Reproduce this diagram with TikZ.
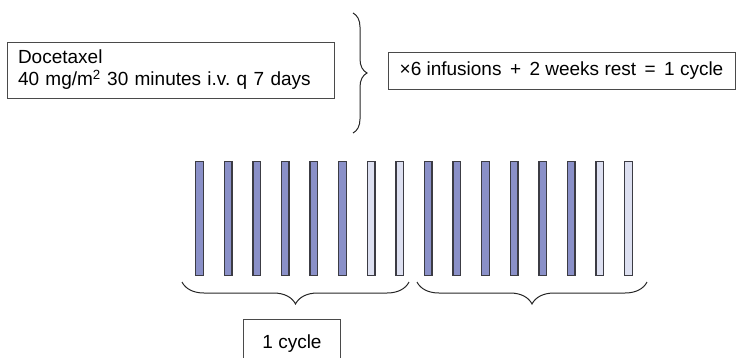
\documentclass[tikz,border=0pt]{standalone}
\usepackage{fontspec}
\setmainfont{Liberation Sans}
\usetikzlibrary{decorations.pathreplacing}
\definecolor{bardark}{HTML}{8A90C8}
\definecolor{barlight}{HTML}{DDE0F1}
\definecolor{barline}{HTML}{3C3C44}
\definecolor{boxline}{HTML}{4A4A4A}
\tikzset{
  txtbox/.style={draw=boxline, line width=1pt, inner sep=0pt, font=\fontsize{19}{22}\selectfont},
  barbox/.style={draw=barline, line width=1.3pt, minimum width=7.6pt, minimum height=113.5pt, inner sep=0pt, anchor=north west},
  bigbrace/.style={draw=black!85, line width=1pt, decorate, decoration={brace, amplitude=#1}},
}
\begin{document}
\frenchspacing
\begin{tikzpicture}[x=1pt,y=-1pt]
\useasboundingbox (0,0) rectangle (736,357);
\clip (0,0) rectangle (736,357);
% top boxes
\node[txtbox, minimum width=327pt, minimum height=56pt, text width=305pt, align=left] (drug) at (170.5,70) {Docetaxel\\40 mg/m\textsuperscript{2} 30 minutes i.v. q 7 days};
\node[txtbox, minimum width=347pt, minimum height=37pt] (rule) at (561.5,70.5) {×6 infusions \,+\, 2 weeks rest \,=\, 1 cycle};
% right-pointing brace
\coordinate (bt) at (353,13);
\coordinate (bb) at (353,133);
\draw[bigbrace=14pt] (bt) -- (bb);
% bars
\foreach \i in {0,...,15}{
  \pgfmathtruncatemacro{\m}{mod(\i,8)}
  \ifnum\m<6
    \node[barbox, fill=bardark] (bar\i) at ({195+28.6*\i},161) {};
  \else
    \node[barbox, fill=barlight] (bar\i) at ({195+28.6*\i},161) {};
  \fi
}
% bottom braces
\coordinate (l1) at (182,282);
\coordinate (r1) at (409,282);
\coordinate (l2) at (417,282);
\coordinate (r2) at (647,282);
\draw[bigbrace=22pt] (r1) -- (l1);
\draw[bigbrace=22pt] (r2) -- (l2);
% cycle box
\node[txtbox, minimum width=97pt, minimum height=48pt, anchor=north west] (cyc) at (243,319) {1 cycle};
\end{tikzpicture}
\end{document}
